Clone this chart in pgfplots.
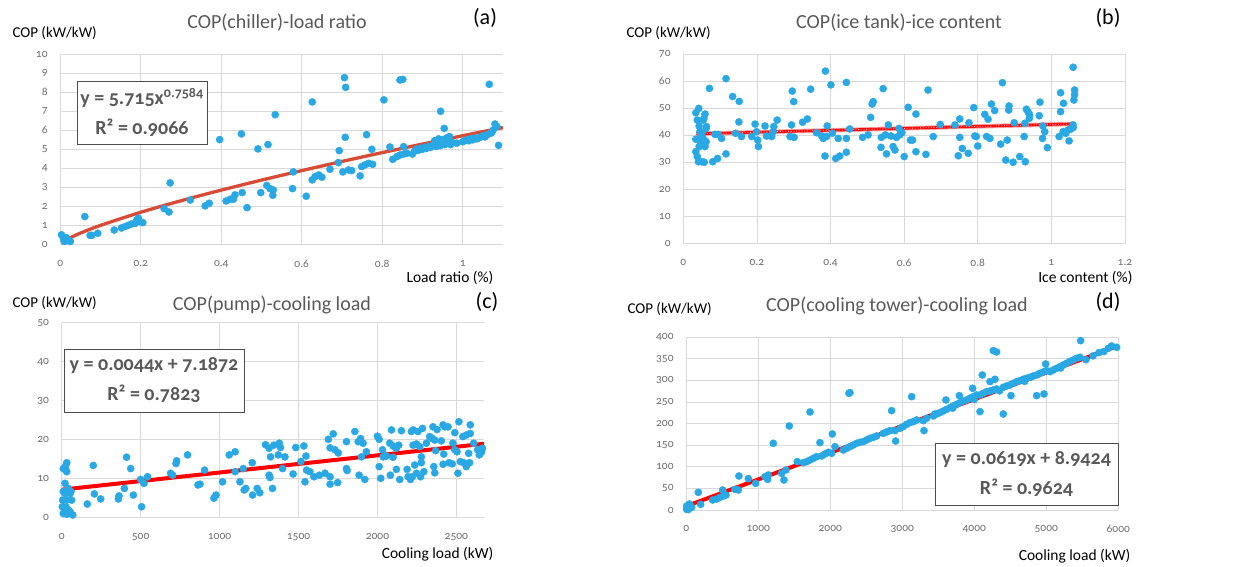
\documentclass[border=0pt]{standalone}
\usepackage{fontspec}
\setmainfont{Carlito}[Numbers=OldStyle]
\usepackage{pgfplots}
\pgfplotsset{compat=1.18}
\definecolor{dotblue}{RGB}{41,168,228}
\definecolor{gridgray}{RGB}{217,217,217}
\definecolor{tickgray}{RGB}{110,110,110}
\definecolor{titlegray}{RGB}{89,89,89}
\definecolor{trendA}{RGB}{215,75,55}
\pgfplotsset{
  panel/.style={scale only axis, anchor=south west,
    axis x line=bottom, axis y line=left,
    axis line style={draw=gridgray, line width=0.8pt, -},
    grid=major, grid style={draw=gridgray, line width=0.8pt},
    major tick style={draw=none},
    ticklabel style={font=\fontsize{11.5}{13}\selectfont, text=tickgray},
    /pgf/number format/assume math mode=true,
    /pgf/number format/1000 sep={},
    scaled ticks=false, enlargelimits=false,
    xticklabel style={yshift=-10pt}, yticklabel style={xshift=-7pt}},
  dots/.style={only marks, mark=*, mark size=3.6pt, mark options={fill=dotblue, draw=dotblue}},
}
\tikzset{
  ttl/.style={font=\fontsize{20}{24}\selectfont, text=titlegray},
  lbl/.style={font=\fontsize{22}{26}\selectfont},
  cop/.style={font=\fontsize{15}{18}\selectfont, anchor=west},
  xl/.style={font=\fontsize{15.5}{18}\selectfont, anchor=east},
  eqbox/.style={draw=black!70, line width=0.8pt, fill=white, align=center, text=titlegray,
    font=\fontsize{20}{30}\selectfont\bfseries, inner sep=0pt},
}
\begin{document}
\begin{tikzpicture}[x=1pt,y=1pt]
\path[use as bounding box] (0,0) rectangle (1239,567);
% ---------------- (a)
\begin{axis}[panel, at={(60.3pt,322.7pt)}, width=442.7pt, height=190pt,
  xmin=0, xmax=1.1, ymin=0, ymax=10, xtick={0,0.2,0.4,0.6,0.8,1}, ytick={0,1,...,10}]
\addplot[dots] coordinates {
(0.003,0.5)(0.008,0.3)(0.01,0.15)(0.015,0.35)(0.02,0.2)(0.025,0.15)(0.061,1.46)(0.074,0.47)(0.078,0.47)(0.093,0.58)
(0.134,0.75)(0.152,0.86)(0.161,0.93)(0.169,1.0)(0.177,1.07)(0.186,1.1)(0.19,1.28)(0.194,1.37)(0.198,1.19)(0.205,1.14)
(0.258,1.88)(0.27,1.70)(0.273,3.23)(0.323,2.33)(0.36,2.02)(0.37,2.16)(0.396,5.51)(0.412,2.28)(0.422,2.37)(0.43,2.37)
(0.434,2.6)(0.452,2.72)(0.45,5.81)(0.464,1.93)(0.491,5.02)(0.498,2.72)(0.516,5.25)(0.513,3.1)(0.521,2.93)(0.529,2.86)
(0.528,2.58)(0.534,6.82)(0.577,2.93)(0.579,3.81)(0.611,2.53)(0.626,7.49)(0.626,3.39)(0.633,3.56)(0.642,3.65)(0.65,3.53)
(0.670,3.95)(0.693,4.93)(0.691,4.3)(0.702,3.81)(0.716,3.91)(0.724,3.88)(0.706,8.77)(0.709,8.26)(0.708,5.63)(0.745,3.6)
(0.749,4.09)(0.757,4.18)(0.766,4.26)(0.776,4.21)(0.761,5.77)(0.774,5.0)(0.804,7.6)(0.819,5.12)(0.826,4.47)(0.836,4.61)
(0.844,4.7)(0.853,4.75)(0.861,4.79)(0.844,8.65)(0.851,8.68)(0.853,5.14)(0.945,7.0)(0.954,6.1)(0.967,5.67)(0.985,5.32)
(1.066,8.42)(1.072,5.88)(1.08,6.33)(1.089,5.21)
(0.875,4.75)(0.88,4.9)(0.885,5.0)(0.89,4.95)(0.895,5.05)(0.90,5.0)(0.905,5.1)(0.91,5.05)(0.915,5.15)(0.92,5.1)
(0.925,5.2)(0.93,5.25)(0.935,5.15)(0.94,5.3)(0.945,5.2)(0.95,5.35)(0.955,5.25)(0.96,5.3)(0.965,5.4)(0.97,5.25)
(0.975,5.35)(1.0,5.4)(1.005,5.45)(1.01,5.5)(1.015,5.45)(1.02,5.55)(1.025,5.5)(1.03,5.6)(1.035,5.55)(1.04,5.6)
(1.045,5.65)(1.05,5.7)(1.055,5.65)(1.06,5.75)(1.07,5.85)(1.075,6.0)(1.085,6.2)(0.93,5.45)(0.94,5.55)(0.95,5.5)(0.96,5.6)
};
\addplot[trendA, line width=3.3pt, smooth] coordinates {
(0.005,0.103)(0.01,0.174)(0.02,0.294)(0.05,0.589)(0.1,0.997)(0.2,1.687)(0.3,2.293)(0.4,2.852)(0.5,3.379)
(0.6,3.879)(0.7,4.361)(0.8,4.825)(0.9,5.276)(1.0,5.715)(1.1,6.143)};
\end{axis}
% ---------------- (b)
\begin{axis}[panel, at={(683.3pt,323.3pt)}, width=441.7pt, height=189.4pt,
  xmin=0, xmax=1.2, ymin=0, ymax=70, xtick={0,0.2,0.4,0.6,0.8,1,1.2}, ytick={0,10,...,70}]
\addplot[dots] coordinates {
(0.034,48.4)(0.042,50.0)(0.038,45.7)(0.034,38.6)(0.034,34.0)(0.041,30.3)(0.05,30.3)(0.043,43.5)(0.045,41.4)(0.048,39.6)
(0.043,35.9)(0.038,32.2)(0.054,45.7)(0.059,47.9)(0.056,46.3)(0.062,42.6)(0.062,37.7)(0.059,35.9)(0.057,30.1)(0.063,43.3)
(0.054,38.9)(0.05,40.8)(0.048,37.1)(0.071,57.4)(0.08,30.3)(0.086,40.4)(0.095,40.4)(0.093,31.5)(0.104,38.9)(0.116,61.0)
(0.116,33.2)(0.134,54.4)(0.142,40.8)(0.151,45.0)(0.152,52.6)(0.158,39.6)(0.186,39.6)(0.195,44.2)(0.199,41.4)(0.202,38.3)
(0.204,35.9)(0.222,43.5)(0.226,39.8)(0.24,39.6)(0.246,43.3)(0.255,45.7)(0.244,41.4)(0.296,56.4)(0.3,52.5)(0.294,43.9)
(0.29,39.6)(0.301,39.3)(0.324,44.9)(0.337,46.1)(0.346,57.1)(0.362,41.0)(0.376,39.8)(0.38,38.9)(0.389,39.6)(0.391,43.5)
(0.386,63.8)(0.385,32.4)(0.401,58.7)(0.405,40.8)(0.414,31.5)(0.425,32.4)(0.443,33.8)(0.421,38.9)(0.443,59.6)(0.443,38.9)
(0.452,42.4)(0.487,39.3)(0.502,40.2)(0.509,46.7)(0.513,51.6)(0.516,52.5)(0.543,57.3)(0.537,35.6)(0.552,33.2)(0.575,34.6)
(0.57,35.9)(0.538,39.3)(0.549,40.2)(0.564,39.8)(0.579,39.3)(0.588,40.2)(0.594,41.0)(0.557,43.9)(0.586,42.6)(0.6,32.2)
(0.611,50.4)(0.617,38.3)(0.623,38.3)(0.632,47.9)(0.632,34.0)(0.659,33.0)(0.665,56.8)(0.679,39.6)(0.698,44.1)(0.738,43.9)
(0.747,32.5)(0.751,46.1)(0.751,39.3)(0.758,35.2)(0.774,33.4)(0.776,44.7)(0.789,50.3)(0.792,39.8)(0.796,39.6)(0.8,36.1)
(0.819,47.8)(0.828,46.0)(0.824,39.6)(0.833,38.9)(0.837,51.6)(0.846,49.2)(0.862,36.8)(0.867,59.5)(0.876,30.9)(0.88,38.3)
(0.884,49.4)(0.885,50.9)(0.896,30.1)(0.899,44.7)(0.914,32.2)(0.926,39.6)(0.929,30.3)(0.932,49.7)(0.937,48.6)(0.94,46.3)
(0.941,47.6)(0.928,44.5)(0.969,52.3)(0.967,47.3)(0.976,38.9)(0.982,41.4)(0.977,43.5)(0.989,35.5)(1.021,39.6)(1.025,55.8)
(1.025,48.8)(1.032,41.4)(1.039,40.8)(1.045,42.0)(1.052,42.3)(1.033,51.9)(1.048,38.0)(1.059,42.9)(1.059,65.2)(1.063,56.8)
(1.063,55.0)(1.061,53.1)(1.059,43.9)
};
\addplot[red!35, line width=4.5pt] coordinates {(0.035,40.6)(1.065,44.3)};
\addplot[red, line width=2.6pt] coordinates {(0.035,40.6)(1.065,44.3)};
\addplot[red!25, line width=0.9pt, dash pattern=on 0.9pt off 1.8pt] coordinates {(0.035,40.6)(1.065,44.3)};
\end{axis}
% ---------------- (c)
\begin{axis}[panel, at={(61.7pt,49.3pt)}, width=422.3pt, height=195pt,
  xmin=0, xmax=2675, ymin=0, ymax=50, xtick={0,500,...,2500}, ytick={0,10,...,50}]
\addplot[dots] coordinates {
(10,12.6)(25,12.2)(32,14.1)(25,13.3)(32,11.8)(21,8.8)(6,4.5)(4,2.8)(10,1.1)(32,0.9)(21,6.2)(42,7.5)(53,6.2)(59,6.7)
(42,2.0)(53,1.5)(70,0.7)(10,6.7)(32,4.5)(27,2.8)(63,4.5)(21,2)
(162,3.5)(200,13.4)(207,6.1)(247,4.8)(359,4.8)(363,5.6)(397,7.5)(411,15.5)(437,12.6)(454,5.8)(506,2.8)(500,9.8)
(521,8.8)(544,10.5)(690,11.4)(703,10.9)(728,14.6)(724,13.9)(797,16.1)(863,8.4)(876,8.6)(905,12.2)(964,5.0)(977,5.8)
(1019,9.2)(1061,16.1)(1099,16.9)(1099,11.8)(1129,9.2)(1156,7.1)(1166,7.5)(1150,12.6)(1207,14.1)(1209,5.8)(1238,7.5)
(1255,6.4)(1291,18.7)(1314,17.8)(1323,15.6)(1314,10.9)(1319,10.3)(1335,7.5)(1344,18.6)(1378,19.1)(1386,18.0)(1372,16.1)
(1414,15.6)(1399,12.6)(1466,11.2)(1483,18.0)(1534,18.4)(1515,14.4)(1547,15.8)(1541,9.2)(1551,12.2)(1572,11.8)(1598,10.5)
(1632,10.9)(1668,11.4)(1700,10.5)(1689,20.1)(1720,21.5)(1700,17.9)(1731,17.4)(1752,16.6)(1700,8.6)(1748,9.0)(1804,19.5)
(1804,12.6)(1808,12.1)(1857,22.1)(1878,19.5)(1893,20.3)(1909,19.1)(1884,10.9)(1920,9.8)(1899,15.6)(1930,16.9)(2000,20.9)
(2011,20.1)(2011,13.1)(2021,10.1)(2032,17.4)(2036,15.6)(2057,15.8)(2078,19.1)(2099,18.4)(2120,17.8)(2135,18.6)(2089,22.5)
(2082,10.9)(2120,12.4)(2099,15.5)(2141,9.8)(2152,22.3)(2188,12.4)(2194,10.5)(2215,22.1)(2226,22.5)(2257,22.1)(2285,22.9)
(2226,18.6)(2247,18.9)(2268,18.2)(2209,9.8)(2221,10.5)(2247,11.4)(2273,10.5)(2294,11.8)(2236,13.5)(2278,14.1)(2278,15.6)
(2310,19.1)(2331,20.8)(2348,20.3)(2363,19.9)(2352,23.3)(2378,22.6)(2357,13.1)(2363,11.5)(2369,17.2)(2405,19.7)(2416,23.8)
(2426,23.3)(2447,23.3)(2420,16.3)(2416,13.7)(2453,14.1)(2474,13.8)(2478,19.1)(2490,17.4)(2504,16.9)(2490,21.8)(2510,11.4)
(2516,24.6)(2525,14.4)(2546,14.1)(2563,13.1)(2584,14.1)(2541,20.8)(2563,21.2)(2588,21.6)(2588,23.8)(2578,16.5)(2610,19.1)
(2635,17.4)(2652,16.5)(2665,17.8)(2645,16.1)(2660,16.9)
};
\addplot[red, line width=4pt] coordinates {(0,7.187)(2675,18.957)};
\end{axis}
% ---------------- (d)
\begin{axis}[panel, at={(686.3pt,57pt)}, width=432pt, height=172.7pt,
  xmin=0, xmax=6000, ymin=0, ymax=400, xtick={0,1000,...,6000}, ytick={0,50,...,400}]
\addplot[dots] coordinates {
(5,9.3)(14,3.9)(28,1)(51,4.6)(60,9.3)(42,13.9)(5,1.5)(74,6.2)(167,40.9)(199,13.1)(366,23.2)(421,25.5)(468,29.3)(514,32.4)
(505,46.3)(551,34.7)(676,47.9)(722,46.3)(731,78.8)(861,72.6)(963,61.8)(1093,77.2)(1139,81.1)(1130,71.0)(1208,154.4)
(1324,84.9)(1356,69.5)(1384,92.7)(1430,194.6)(1541,112.0)(1625,109.7)(1671,112.0)(1718,115.8)(1764,119.7)(1810,123.6)
(1718,227.0)(1856,156.0)(1880,125.1)(1926,129.7)(1972,133.6)(2018,131.3)(2028,176.1)(2065,146.7)(2181,139.0)(2227,142.9)
(2273,146.7)(2319,150.6)(2366,154.4)(2259,270.3)(2273,271.8)(2412,156.8)(2458,158.3)(2505,162.2)(2551,166.0)(2597,168.3)
(2643,171.4)(2736,177.6)(2782,180.7)(2829,183.8)(2852,230.1)(2907,159.8)(2898,183.8)(2967,189.2)(3014,193.1)(3060,198.5)
(3106,202.3)(3153,204.6)(3199,208.5)(3130,262.5)(3301,183.8)(3292,207.0)(3338,212.4)(3431,217.8)(3477,222.4)(3523,225.5)
(3569,229.3)(3616,233.2)(3662,237.1)(3708,240.9)(3755,244.8)(3801,248.6)(3847,252.5)(3894,254.8)(3940,258.7)(3606,254.8)
(3792,264.9)(3977,281.9)(4079,227.8)(4111,312.7)(3986,262.5)(4032,266.4)(4079,266.4)(4125,270.3)(4171,274.1)(4218,275.7)
(4264,278.0)(4310,280.3)(4218,297.3)(4287,302.7)(4264,369.1)(4310,366.0)(4403,222.4)(4403,284.2)(4449,287.3)(4495,289.6)
(4542,293.4)(4588,297.3)(4634,299.6)(4680,302.7)(4727,305.0)(4773,307.3)(4819,310.4)(4866,312.7)(4912,316.6)(4958,319.7)
(5005,322.8)(4509,264.9)(4866,264.9)(4968,268.7)(4991,338.2)(5051,320.5)(5097,324.3)(5144,328.2)(5190,332.0)(5236,335.9)
(5283,339.8)(5329,344.4)(5375,347.5)(5421,351.4)(5468,353.7)(5477,392.3)(5731,364.5)(5861,374.5)(5907,379.9)(5977,376.8)
(3450,222)(3700,236)(4000,256)(4350,276)(4700,298)(5200,329)(5550,348)(5650,357)(5800,367)
};
\addplot[red, line width=4pt] coordinates {(0,8.94)(6000,380.34)};
\end{axis}
% ---------------- texts
\node[ttl] at (277,544) {COP(chiller)-load ratio};
\node[lbl] at (485,549) {(a)};
\node[cop] at (9,534) {COP (kW/kW)};
\node[xl] at (497,289) {Load ratio (\%)};
\node[eqbox, minimum width=130pt, minimum height=63pt] at (142,454.5) {y = 5.715x\textsuperscript{0.7584}\\R² = 0.9066};

\node[ttl] at (899,544) {COP(ice tank)-ice content};
\node[lbl] at (1108,549) {(b)};
\node[cop] at (623,534) {COP (kW/kW)};
\node[xl] at (1136,289) {Ice content (\%)};

\node[ttl] at (272,262) {COP(pump)-cooling load};
\node[lbl] at (487,265) {(c)};
\node[cop] at (9,264) {COP (kW/kW)};
\node[xl] at (497,13) {Cooling load (kW)};
\node[eqbox, minimum width=180pt, minimum height=63pt] at (154,186.5) {y = 0.0044x + 7.1872\\R² = 0.7823};

\node[ttl] at (897,261) {COP(cooling tower)-cooling load};
\node[lbl] at (1108,265) {(d)};
\node[cop] at (624,258) {COP (kW/kW)};
\node[xl] at (1134,11) {Cooling load (kW)};
\node[eqbox, minimum width=183pt, minimum height=62pt] at (1026.5,93) {y = 0.0619x + 8.9424\\R² = 0.9624};
\end{tikzpicture}
\end{document}
